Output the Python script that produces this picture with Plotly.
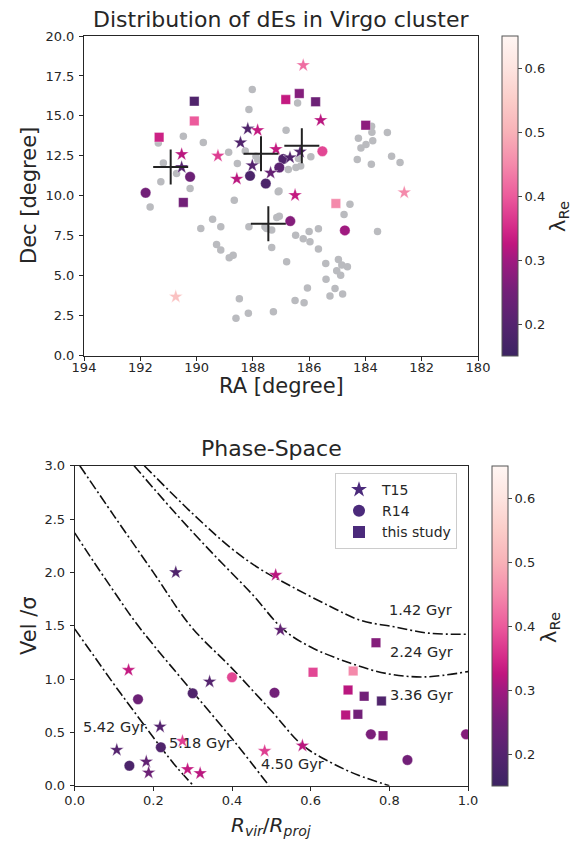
import plotly.graph_objects as go

W, H = 579, 841
OFF = 8  # page body margin of the browser

# ---------------- top panel data ----------------
grey_ra = [188.02,188.14,190.47,189.76,191.36,188.86,191.18,190.71,188.55,191.27,190.23,187.10,188.66,186.41,186.82,188.27,187.89,187.82,185.94,186.74,186.47,186.30,187.07,186.38,183.78,183.77,183.22,184.25,183.74,183.98,184.16,183.07,184.29,182.77,183.79,184.55,184.76,187.15,187.06,183.57,187.33,186.48,186.00,185.67,186.21,185.97,185.67,187.33,186.80,185.41,184.96,184.84,184.64,185.02,184.88,185.40,186.06,185.08,184.81,185.26,186.50,186.18,187.27,191.65,189.43,189.85,189.14,188.14,187.57,187.51,189.29,189.14,188.84,188.70,188.48,188.16,188.60]
grey_dec = [16.65,15.40,13.73,13.33,13.31,12.73,12.06,11.40,12.02,10.88,10.46,10.25,9.73,15.81,14.10,12.81,12.48,12.23,12.44,11.65,11.77,11.86,10.31,12.34,14.36,13.98,13.96,13.61,13.44,13.21,13.00,12.48,12.27,12.09,11.98,9.48,8.84,8.65,8.73,7.77,7.86,7.54,7.77,7.94,7.31,7.13,6.67,6.77,5.88,5.77,6.02,5.67,5.56,5.31,5.04,4.79,4.23,4.21,3.86,3.73,3.46,3.31,2.75,9.31,8.54,7.96,8.06,8.06,8.06,7.96,6.96,6.61,6.13,6.29,3.56,2.65,2.34]

cross_ra = [190.92, 187.71, 187.45, 186.26]
cross_dec = [11.81, 12.63, 8.25, 13.13]

t15_ra = [188.18,187.83,188.44,190.53,189.24,187.18,190.53,188.02,188.57,187.37,186.32,186.68,185.59,186.50,186.21,182.62,190.74]
t15_dec = [14.19,14.10,13.33,12.60,12.50,12.92,11.79,11.90,11.06,11.44,12.75,12.40,14.73,10.04,18.17,10.21,3.69]
t15_lam = [0.19,0.33,0.19,0.32,0.37,0.33,0.20,0.20,0.32,0.23,0.19,0.19,0.32,0.33,0.42,0.45,0.53]

r14_ra = [188.10,190.23,187.54,191.81,186.92,187.06,185.53,186.67,184.73]
r14_dec = [11.25,11.19,10.77,10.19,12.31,11.77,12.79,8.42,7.84]
r14_lam = [0.18,0.24,0.18,0.25,0.19,0.21,0.38,0.27,0.30]

ts_ra = [190.08,190.08,191.33,190.47,186.83,186.35,185.77,183.99,185.05]
ts_dec = [15.92,14.69,13.67,9.59,16.02,16.40,15.88,14.42,9.52]
ts_lam = [0.19,0.40,0.34,0.25,0.33,0.27,0.24,0.28,0.45]

# ---------------- bottom panel data ----------------
p_t15_x = [0.257,0.511,0.523,0.137,0.343,0.217,0.274,0.107,0.182,0.188,0.287,0.319,0.483,0.579]
p_t15_y = [2.00,1.975,1.46,1.084,0.975,0.553,0.419,0.335,0.225,0.122,0.154,0.116,0.325,0.375]
p_t15_lam = [0.19,0.32,0.22,0.33,0.20,0.20,0.37,0.20,0.22,0.24,0.33,0.32,0.37,0.32]

p_r14_x = [0.161,0.400,0.300,0.219,0.139,0.508,0.753,0.995,0.846]
p_r14_y = [0.81,1.016,0.866,0.36,0.187,0.872,0.482,0.482,0.241]
p_r14_lam = [0.24,0.38,0.19,0.19,0.18,0.25,0.26,0.27,0.25]

p_ts_x = [0.766,0.606,0.708,0.695,0.736,0.780,0.689,0.720,0.784]
p_ts_y = [1.34,1.063,1.075,0.897,0.838,0.794,0.663,0.669,0.469]
p_ts_lam = [0.27,0.38,0.45,0.32,0.25,0.19,0.32,0.25,0.27]

c1_x = [0.0,0.05,0.10,0.15,0.219,0.26,0.302]
c1_y = [1.47,1.21,0.95,0.70,0.36,0.17,0.0]
c2_x = [0.0,0.05,0.10,0.149,0.20,0.30,0.409,0.494]
c2_y = [2.37,2.09,1.82,1.56,1.32,0.88,0.40,0.0]
c3_x = [0.013,0.10,0.20,0.294,0.40,0.498,0.579,0.65,0.72,0.80]
c3_y = [3.0,2.53,2.0,1.50,1.10,0.71,0.38,0.22,0.10,0.0]
c4_x = [0.151,0.25,0.35,0.45,0.532,0.60,0.70,0.795,0.889,1.0]
c4_y = [3.0,2.58,2.18,1.80,1.46,1.30,1.15,1.05,1.02,1.07]
c5_x = [0.177,0.30,0.40,0.472,0.55,0.65,0.727,0.812,0.90,1.0]
c5_y = [3.0,2.55,2.22,2.03,1.87,1.68,1.55,1.49,1.43,1.42]
curves = [(c1_x, c1_y), (c2_x, c2_y), (c3_x, c3_y), (c4_x, c4_y), (c5_x, c5_y)]

gyr_labels = ["1.42 Gyr", "2.24 Gyr", "3.36 Gyr", "4.50 Gyr", "5.18 Gyr", "5.42 Gyr"]
gyr_x = [0.880, 0.881, 0.881, 0.555, 0.319, 0.102]
gyr_y = [1.647, 1.25, 0.85, 0.203, 0.403, 0.547]

cbar_ticks = [0.2, 0.3, 0.4, 0.5, 0.6]

# ---------------- styling ----------------
FONT = "DejaVu Sans"
TXT = "#262626"
cscale = [
    [0.0, "#3c2362"], [0.1, "#55246f"], [0.2, "#722078"], [0.3, "#a01a80"],
    [0.35, "#c0167f"], [0.4, "#d42a89"], [0.5, "#ec5b9c"], [0.6, "#f48aab"],
    [0.7, "#f8b2b8"], [0.8, "#fbcdc9"], [0.9, "#fde4e0"], [1.0, "#fff6f3"],
]
LEG_COL = "#4b2a7b"
STAR_SZ, CIRC_SZ, SQ_SZ = 10.5, 10.5, 9.5
TICK_SZ, LABEL_SZ, TITLE_SZ = 13, 21, 22

def px_x(p):
    return (p - OFF) / W

def px_y(p):
    return 1 - (p - OFF) / H

fig = go.Figure()

# top panel
fig.add_trace(go.Scatter(x=grey_ra, y=grey_dec, mode="markers", xaxis="x", yaxis="y",
                         marker=dict(color="#babbbf", size=7.5), showlegend=False, hoverinfo="skip"))
for xs, ys, lam, sym, sz in [(ts_ra, ts_dec, ts_lam, "square", SQ_SZ),
                             (r14_ra, r14_dec, r14_lam, "circle", CIRC_SZ),
                             (t15_ra, t15_dec, t15_lam, "star", STAR_SZ)]:
    fig.add_trace(go.Scatter(x=xs, y=ys, mode="markers", xaxis="x", yaxis="y",
                             marker=dict(symbol=sym, size=sz, color=lam, coloraxis="coloraxis",
                                         line=dict(width=0.5, color="rgba(255,255,255,0.7)")),
                             showlegend=False))
fig.add_trace(go.Scatter(x=cross_ra, y=cross_dec, mode="markers", xaxis="x", yaxis="y",
                         marker=dict(symbol="cross-thin", size=25, line=dict(width=2, color="#222222")),
                         showlegend=False))

# bottom panel curves
for cx, cy in curves:
    fig.add_trace(go.Scatter(x=cx, y=cy, mode="lines", xaxis="x2", yaxis="y2",
                             line=dict(color="#111111", width=1.6, dash="10px,3px,2px,3px", shape="spline"),
                             showlegend=False, hoverinfo="skip"))
for xs, ys, lam, sym, sz in [(p_t15_x, p_t15_y, p_t15_lam, "star", STAR_SZ),
                             (p_r14_x, p_r14_y, p_r14_lam, "circle", CIRC_SZ),
                             (p_ts_x, p_ts_y, p_ts_lam, "square", SQ_SZ)]:
    fig.add_trace(go.Scatter(x=xs, y=ys, mode="markers", xaxis="x2", yaxis="y2",
                             marker=dict(symbol=sym, size=sz, color=lam, coloraxis="coloraxis2",
                                         line=dict(width=0.5, color="rgba(255,255,255,0.7)")),
                             showlegend=False))
# legend entries
for name, sym, sz in [("T15", "star", STAR_SZ), ("R14", "circle", CIRC_SZ), ("this study", "square", SQ_SZ)]:
    fig.add_trace(go.Scatter(x=[None], y=[None], mode="markers", xaxis="x2", yaxis="y2", name=name,
                             marker=dict(symbol=sym, size=sz, color=LEG_COL)))

for t, gx, gy in zip(gyr_labels, gyr_x, gyr_y):
    fig.add_annotation(x=gx, y=gy, xref="x2", yref="y2", text=t, showarrow=False,
                       font=dict(family=FONT, size=14.5, color=TXT))

axis_common = dict(showline=True, linecolor=TXT, linewidth=1, mirror=True, ticks="outside",
                   ticklen=4, tickcolor=TXT, tickfont=dict(family=FONT, size=TICK_SZ, color=TXT),
                   showgrid=False, zeroline=False, automargin=False)

cb_common = dict(xanchor="left", yanchor="middle", len=320 / H, lenmode="fraction", thickness=16,
                 outlinewidth=1, outlinecolor="#555555", ticks="outside", ticklen=4,
                 tickvals=cbar_ticks, tickformat=".1f",
                 tickfont=dict(family=FONT, size=TICK_SZ, color=TXT), xpad=0, ypad=0)

fig.update_layout(
    width=W, height=H, margin=dict(l=0, r=0, t=0, b=0, autoexpand=False),
    paper_bgcolor="white", plot_bgcolor="white",
    font=dict(family=FONT, color=TXT),
    xaxis=dict(domain=[px_x(84), px_x(478)], range=[194, 180], tickvals=list(range(194, 179, -2)),
               anchor="y", ticklabelstandoff=-4, **axis_common),
    yaxis=dict(domain=[px_y(355.7), px_y(36)], range=[0, 20], tickvals=[0, 2.5, 5, 7.5, 10, 12.5, 15, 17.5, 20],
               tickformat=".1f", anchor="x", ticklabelstandoff=2, **axis_common),
    xaxis2=dict(domain=[px_x(74.7), px_x(468)], range=[0, 1], tickvals=[0, 0.2, 0.4, 0.6, 0.8, 1.0],
                tickformat=".1f", anchor="y2", ticklabelstandoff=-1, **axis_common),
    yaxis2=dict(domain=[px_y(785.7), px_y(465.7)], range=[0, 3], tickvals=[0, 0.5, 1, 1.5, 2, 2.5, 3],
                tickformat=".1f", anchor="x2", ticklabelstandoff=2, **axis_common),
    coloraxis=dict(colorscale=cscale, cmin=0.15, cmax=0.65,
                   colorbar=dict(x=px_x(502), y=px_y(196), **cb_common)),
    coloraxis2=dict(colorscale=cscale, cmin=0.15, cmax=0.65,
                    colorbar=dict(x=px_x(492), y=px_y(626), **cb_common)),
    legend=dict(x=px_x(335), xanchor="left", y=px_y(473), yanchor="top",
                bgcolor="white", bordercolor="#cccccc", borderwidth=1, itemwidth=36,
                font=dict(family=FONT, size=14, color=TXT), tracegroupgap=0, itemsizing="constant"),
)

def ann(text, x, y, size, angle=0):
    fig.add_annotation(x=px_x(x), y=px_y(y), xref="paper", yref="paper", text=text, showarrow=False,
                       textangle=angle, font=dict(family=FONT, size=size, color=TXT),
                       xanchor="center", yanchor="middle")

ann("Distribution of dEs in Virgo cluster", 281, 19, TITLE_SZ)
ann("RA [degree]", 281, 386, LABEL_SZ)
ann("Dec [degree]", 29, 196, LABEL_SZ, -90)
ann("λ<sub>Re</sub>", 559, 217, LABEL_SZ, -90)
ann("Phase-Space", 271, 449, TITLE_SZ)
ann("<i>R<sub>vir</sub></i>/<i>R<sub>proj</sub></i>", 271, 826, 20)
ann("Vel /σ", 29, 626, LABEL_SZ, -90)
ann("λ<sub>Re</sub>", 550, 628, LABEL_SZ, -90)

fig.write_html("out.html")
